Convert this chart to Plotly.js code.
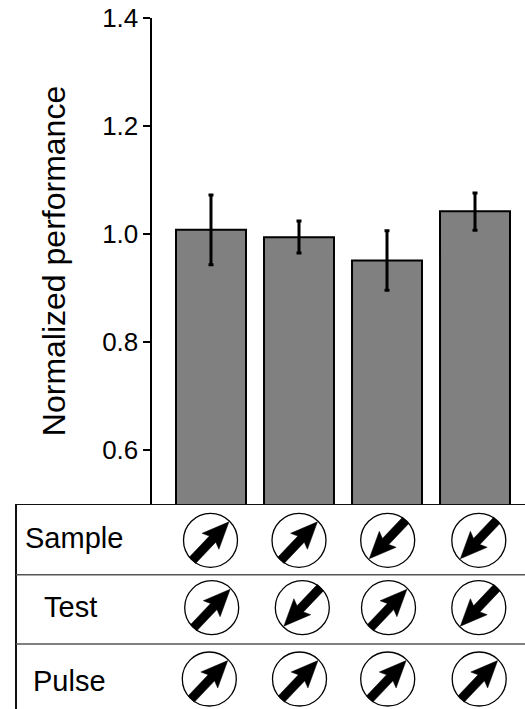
<!DOCTYPE html>
<html><head><meta charset="utf-8">
<script src="https://cdn.plot.ly/plotly-3.0.1.min.js"></script>
<style>html,body{margin:0;padding:0;background:#fff}</style></head>
<body><div id="chart" style="width:525px;height:709px"></div>
<script>
var conditions = [0, 1, 2, 3];
var performance = [1.008, 0.994, 0.951, 1.042];
var errorUpper = [0.064, 0.030, 0.055, 0.034];
var errorLower = [0.065, 0.029, 0.055, 0.035];
var yTicks = [0.6, 0.8, 1.0, 1.2, 1.4];
var yTickLabels = ['0.6', '0.8', '1.0', '1.2', '1.4'];
var rowLabels = ['Sample', 'Test', 'Pulse'];
var sampleDirections = [1, 1, -1, -1];
var testDirections = [1, -1, 1, -1];
var pulseDirections = [1, 1, 1, 1];

// table layout, in pixels of the lower panel
var rowDirections = [sampleDirections, testDirections, pulseDirections];
var iconX = [[210.5, 299, 387.7, 478.8], [211.7, 302.3, 388.5, 478.8], [209.3, 299.5, 387.7, 479.2]];
var iconY = [36.3, 103.7, 175];
var labelX = [25, 44, 33];
var labelY = [34, 103, 177];
var ruleY = [70.7, 140];

var px = [], py = [], ax = [], ay = [];
var form = [[26.8,0],[0,-11.6],[3,-4.4],[-26.3,-4.4],[-26.3,4.4],[3,4.4],[0,11.6],[26.8,0]];
var ang = 46.5 * Math.PI / 180;
rowDirections.forEach(function (dirs, r) {
  dirs.forEach(function (d, c) {
    var cx = iconX[r][c], cy = iconY[r];
    px.push(cx); py.push(cy);
    form.forEach(function (p) {
      var ux = d * Math.cos(ang), uy = -d * Math.sin(ang);
      ax.push(cx + p[0] * ux - p[1] * uy);
      ay.push(cy + p[0] * uy + p[1] * ux + 1 * d);
    });
    ax.push(null); ay.push(null);
  });
});

var FONT = 'Liberation Sans, Arial, sans-serif';
var traces = [
  { type: 'bar', x: conditions, y: performance, width: 0.795, xaxis: 'x', yaxis: 'y',
    marker: { color: '#808080', line: { color: '#000', width: 2 } },
    error_y: { type: 'data', symmetric: false, array: errorUpper, arrayminus: errorLower,
      color: '#000', thickness: 3, width: 2.5 }, hoverinfo: 'none' },
  { type: 'scatter', mode: 'lines', x: ax, y: ay, xaxis: 'x2', yaxis: 'y2', fill: 'toself',
    fillcolor: '#000', line: { width: 0.5, color: '#000' }, hoverinfo: 'none', cliponaxis: false },
  { type: 'scatter', mode: 'markers', x: px, y: py, xaxis: 'x2', yaxis: 'y2',
    marker: { symbol: 'circle-open', size: 54, color: '#000', line: { width: 1.3, color: '#111' } },
    hoverinfo: 'none', cliponaxis: false }
];

var shapes = [
  { type: 'line', xref: 'x2', yref: 'y2', x0: 16, x1: 525, y0: 0, y1: 0, line: { color: '#111', width: 2 } },
  { type: 'line', xref: 'x2', yref: 'y2', x0: 16, x1: 16, y0: -1, y1: 205, line: { color: '#111', width: 2 } }
];
ruleY.forEach(function (y) {
  shapes.push({ type: 'line', xref: 'x2', yref: 'y2', x0: 16, x1: 525, y0: y, y1: y, line: { color: '#555', width: 1.4 } });
});

var annotations = rowLabels.map(function (t, i) {
  return { text: t, xref: 'x2', yref: 'y2', x: labelX[i], y: labelY[i], xanchor: 'left', yanchor: 'middle',
    showarrow: false, xshift: -2, font: { family: FONT, size: 29, color: '#000' } };
});

var layout = {
  width: 525, height: 709, autosize: false, showlegend: false,
  margin: { l: 0, r: 0, t: 0, b: 0, pad: 0 },
  paper_bgcolor: '#fff', plot_bgcolor: 'rgba(0,0,0,0)',
  font: { family: FONT, color: '#000' },
  xaxis: { domain: [151.5 / 525, 1], range: [-0.676, 3.568], visible: false, fixedrange: true },
  yaxis: { domain: [205 / 709, 1 - 18 / 709], range: [0.5, 1.4], tickmode: 'array', tickvals: yTicks, ticktext: yTickLabels,
    showgrid: false, zeroline: false, showline: true, linecolor: '#000', linewidth: 2,
    ticks: 'outside', ticklen: 7, tickwidth: 2, tickcolor: '#000', tickfont: { family: FONT, size: 26, color: '#000' },
    ticklabelstandoff: -1,
    title: { text: 'Normalized performance', standoff: 27, font: { family: FONT, size: 32, color: '#000' } } },
  xaxis2: { domain: [0, 1], range: [0, 525], visible: false, anchor: 'y2', fixedrange: true },
  yaxis2: { domain: [0, 205 / 709], range: [205, 0], visible: false, anchor: 'x2', fixedrange: true },
  shapes: shapes, annotations: annotations
};
Plotly.newPlot('chart', traces, layout, { displayModeBar: false, staticPlot: true });
</script></body></html>
